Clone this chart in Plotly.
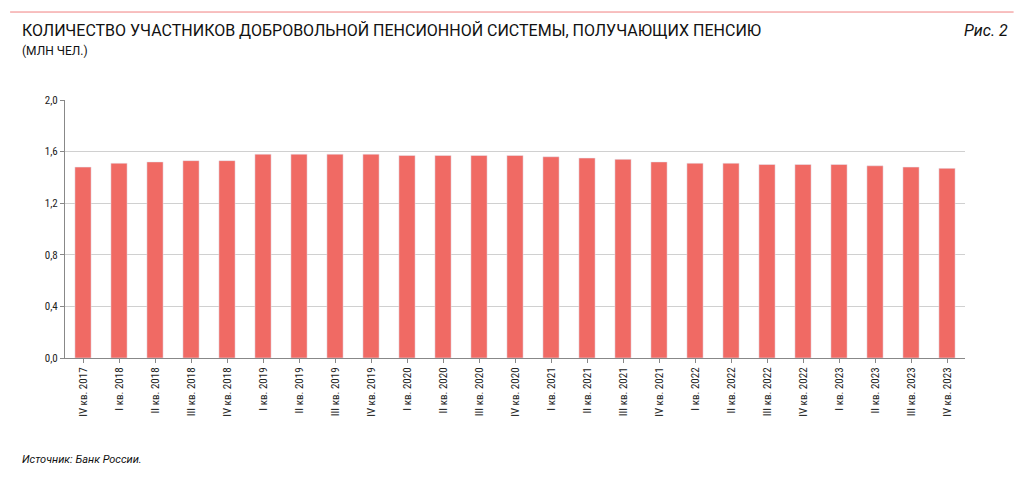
import plotly.graph_objects as go

quarters = ["IV кв. 2017",
            "I кв. 2018", "II кв. 2018", "III кв. 2018", "IV кв. 2018",
            "I кв. 2019", "II кв. 2019", "III кв. 2019", "IV кв. 2019",
            "I кв. 2020", "II кв. 2020", "III кв. 2020", "IV кв. 2020",
            "I кв. 2021", "II кв. 2021", "III кв. 2021", "IV кв. 2021",
            "I кв. 2022", "II кв. 2022", "III кв. 2022", "IV кв. 2022",
            "I кв. 2023", "II кв. 2023", "III кв. 2023", "IV кв. 2023"]
recipients = [1.48,
              1.51, 1.52, 1.53, 1.53,
              1.58, 1.58, 1.58, 1.58,
              1.57, 1.57, 1.57, 1.57,
              1.56, 1.55, 1.54, 1.52,
              1.51, 1.51, 1.50, 1.50,
              1.50, 1.49, 1.48, 1.47]
y_ticks = [0, 0.4, 0.8, 1.2, 1.6, 2.0]
y_tick_labels = ["0,0", "0,4", "0,8", "1,2", "1,6", "2,0"]

fig = go.Figure(go.Bar(x=quarters, y=recipients, marker_color="#F06A64",
                       width=0.45))

font = "Roboto Condensed, Liberation Sans Narrow, Roboto, sans-serif"
title_font = "Roboto, sans-serif"
fig.update_layout(
    width=1008, height=469,
    paper_bgcolor="white", plot_bgcolor="white",
    margin=dict(l=57, r=51, t=92, b=119),
    font=dict(family=font, size=11, color="#222"),
    showlegend=False,
    shapes=[dict(type="line", xref="paper", yref="paper", x0=-0.061, x1=1.054,
                 y0=1.341, y1=1.341, line=dict(color="#F08080", width=1))],
    annotations=[
        dict(text="КОЛИЧЕСТВО УЧАСТНИКОВ ДОБРОВОЛЬНОЙ ПЕНСИОННОЙ СИСТЕМЫ, ПОЛУЧАЮЩИХ ПЕНСИЮ",
             xref="paper", yref="paper", x=-0.05, y=1.225, xanchor="left", yanchor="bottom",
             showarrow=False, font=dict(family=title_font, size=16, color="#111")),
        dict(text="(МЛН ЧЕЛ.)", xref="paper", yref="paper", x=-0.05, y=1.155,
             xanchor="left", yanchor="bottom", showarrow=False,
             font=dict(family=title_font, size=12, color="#111")),
        dict(text="<i>Рис. 2</i>", xref="paper", yref="paper", x=1.05, y=1.225,
             xanchor="right", yanchor="bottom", showarrow=False,
             font=dict(family=title_font, size=16, color="#111")),
        dict(text="<i>Источник: Банк России.</i>", xref="paper", yref="paper", x=-0.05, y=-0.36,
             xanchor="left", yanchor="top", showarrow=False,
             font=dict(family=title_font, size=11, color="#111")),
    ],
)
fig.update_xaxes(tickangle=-90, showline=True, linecolor="#888", ticks="outside",
                 ticklen=4, tickcolor="#888", tickfont=dict(size=11))
fig.update_yaxes(range=[0, 2.0], tickvals=y_ticks, ticktext=y_tick_labels,
                 showgrid=True, gridcolor="#d0d0d0", showline=True, linecolor="#888",
                 ticks="outside", ticklen=4, tickcolor="#888", zeroline=False,
                 tickfont=dict(size=11))

fig.write_html("out.html")
